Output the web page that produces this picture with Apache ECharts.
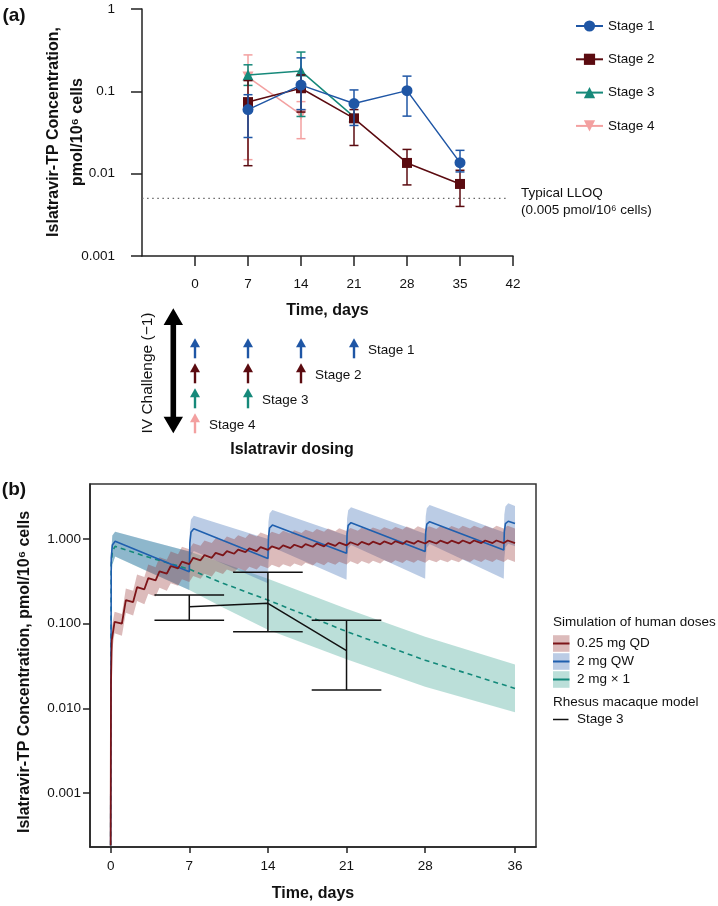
<!DOCTYPE html>
<html>
<head>
<meta charset="utf-8">
<script src="https://cdn.jsdelivr.net/npm/echarts@6/dist/echarts.min.js"></script>
<style>
  html, body { margin: 0; background: #fff; }
  #chart { width: 718px; height: 906px; }
</style>
</head>
<body>
<div id="chart"></div>
<script>
// ---- panel (a): measured islatravir-TP per stage ----
const stageNames = ['Stage 1', 'Stage 2', 'Stage 3', 'Stage 4']
const stageColors = ['#1f56a5', '#5b0b10', '#16897a', '#f3a0a0']
const stageSymbols = ['circle', 'rect', 'triangle', 'triangle']

const stage1Days = [7, 14, 21, 28, 35]
const stage1Mean = [0.06, 0.119, 0.071, 0.102, 0.0136]
const stage1Lo = [0.0275, 0.06, 0.0385, 0.05, 0.0105]
const stage1Hi = [0.091, 0.255, 0.104, 0.153, 0.0192]

const stage2Days = [7, 14, 21, 28, 35]
const stage2Mean = [0.074, 0.109, 0.047, 0.0135, 0.0075]
const stage2Lo = [0.0125, 0.056, 0.022, 0.0073, 0.004]
const stage2Hi = [0.135, 0.158, 0.06, 0.0197, 0.011]

const stage3Days = [7, 14, 21]
const stage3Mean = [0.158, 0.176, 0.049]
const stage3Lo = [0.118, 0.0495, null]
const stage3Hi = [0.21, 0.3, null]

const stage4Days = [7, 14]
const stage4Mean = [0.149, 0.052]
const stage4Lo = [0.0148, 0.0266]
const stage4Hi = [0.277, 0.075]

const lloq = 0.005
const lloqDays = [-7, 41.5]
const aTicks = [0, 7, 14, 21, 28, 35, 42]

// dosing days per stage
const stage1Doses = [0, 7, 14, 21]
const stage2Doses = [0, 7, 14]
const stage3Doses = [0, 7]
const stage4Doses = [0]

// ---- panel (b): simulated human doses ----
const bTicks = [0, 7, 14, 21, 28, 36]
const bYTicks = [0.001, 0.01, 0.1, 1]

// 0.25 mg QD: start of first day, then daily peak (day d + lag) and trough (day d + 1)
const qdStartT = [0, 0.03, 0.1]
const qdMedStart = [0.00024, 0.02, 0.064]
const qdHiStart = [0.00024, 0.03, 0.09]
const qdLoStart = [0.00024, 0.012, 0.045]
const qdPeakLag = 0.35
const qdMedPeak = [0.105, 0.19, 0.27, 0.345, 0.415, 0.48, 0.54, 0.6, 0.645, 0.685, 0.72, 0.75, 0.775, 0.8, 0.82, 0.84, 0.855, 0.87, 0.885, 0.895, 0.905, 0.915, 0.925, 0.93, 0.935, 0.94, 0.945, 0.95, 0.95, 0.955, 0.955, 0.96, 0.96, 0.96, 0.96, 0.96]
const qdMedTrough = [0.1, 0.18, 0.255, 0.325, 0.39, 0.45, 0.505, 0.56, 0.6, 0.64, 0.67, 0.7, 0.72, 0.745, 0.765, 0.78, 0.795, 0.81, 0.82, 0.83, 0.84, 0.85, 0.86, 0.865, 0.87, 0.875, 0.88, 0.885, 0.885, 0.89, 0.89, 0.89, 0.895, 0.895, 0.895, 0.895]
const qdHiPeak = [0.138, 0.26, 0.38, 0.5, 0.61, 0.71, 0.81, 0.89, 0.96, 1.02, 1.07, 1.11, 1.15, 1.19, 1.22, 1.25, 1.27, 1.29, 1.31, 1.33, 1.34, 1.35, 1.36, 1.37, 1.38, 1.39, 1.4, 1.41, 1.41, 1.42, 1.42, 1.43, 1.43, 1.43, 1.43, 1.43]
const qdHiTrough = [0.13, 0.245, 0.355, 0.465, 0.57, 0.66, 0.755, 0.83, 0.895, 0.95, 0.995, 1.03, 1.07, 1.105, 1.135, 1.165, 1.18, 1.2, 1.22, 1.235, 1.245, 1.255, 1.265, 1.275, 1.285, 1.295, 1.3, 1.31, 1.31, 1.32, 1.32, 1.33, 1.33, 1.33, 1.33, 1.33]
const qdLoPeak = [0.077, 0.135, 0.185, 0.225, 0.265, 0.3, 0.335, 0.365, 0.39, 0.415, 0.435, 0.455, 0.47, 0.485, 0.495, 0.505, 0.515, 0.525, 0.53, 0.535, 0.54, 0.545, 0.55, 0.555, 0.56, 0.56, 0.565, 0.565, 0.57, 0.57, 0.57, 0.575, 0.575, 0.575, 0.575, 0.575]
const qdLoTrough = [0.072, 0.125, 0.17, 0.21, 0.245, 0.28, 0.31, 0.34, 0.36, 0.385, 0.405, 0.42, 0.435, 0.45, 0.46, 0.47, 0.48, 0.485, 0.49, 0.495, 0.5, 0.505, 0.51, 0.515, 0.52, 0.52, 0.525, 0.525, 0.53, 0.53, 0.53, 0.535, 0.535, 0.535, 0.535, 0.535]

// 2 mg QW: per weekly cycle, value at dose time, two points on the rise, peak; then value at day 36
const qwDoseDays = [0, 7, 14, 21, 28, 35]
const qwRiseT = [0.05, 0.15, 0.4]
const qwMedTrough = [0.00024, 0.41, 0.59, 0.68, 0.71, 0.74]
const qwMedRiseA = [0.6, 0.9, 1.05, 1.15, 1.2, 1.22]
const qwMedRiseB = [0.85, 1.2, 1.35, 1.45, 1.5, 1.52]
const qwMedPeak = [0.94, 1.32, 1.46, 1.56, 1.6, 1.62]
const qwMedEnd = 1.52
const qwHiTrough = [0.00024, 0.71, 1.0, 1.1, 1.15, 1.2]
const qwHiRiseA = [0.7, 1.3, 1.6, 1.75, 1.85, 1.95]
const qwHiRiseB = [1.1, 1.7, 2.0, 2.18, 2.3, 2.42]
const qwHiPeak = [1.22, 1.88, 2.2, 2.37, 2.52, 2.64]
const qwHiEnd = 2.45
const qwLoTrough = [0.00024, 0.25, 0.3, 0.33, 0.34, 0.34]
const qwLoRiseA = [0.3, 0.45, 0.52, 0.56, 0.58, 0.59]
const qwLoRiseB = [0.5, 0.64, 0.72, 0.77, 0.79, 0.8]
const qwLoPeak = [0.62, 0.72, 0.8, 0.85, 0.87, 0.88]
const qwLoEnd = 0.82

// 2 mg x 1
const onceT = [0, 0.05, 0.15, 0.4, 3, 7, 10, 14, 21, 28, 36]
const onceMed = [0.00024, 0.5, 0.72, 0.82, 0.63, 0.44, 0.3, 0.19, 0.081, 0.037, 0.0172]
const onceHi = [0.00024, 0.7, 1.1, 1.22, 0.98, 0.71, 0.52, 0.34, 0.15, 0.07, 0.033]
const onceLo = [0.00024, 0.3, 0.5, 0.62, 0.43, 0.25, 0.155, 0.085, 0.038, 0.018, 0.009]

// rhesus macaque model, stage 3
const modelDays = [7, 14, 21]
const modelMean = [0.159, 0.174, 0.048]
const modelLo = [0.11, 0.0805, 0.0165]
const modelHi = [0.218, 0.405, 0.11]
const modelCapDays = 3.1

const font = "'Liberation Sans', Arial, Helvetica, sans-serif"
const ink = '#111'
const qdColor = '#7d1519'
const qwColor = '#1f5fae'
const onceColor = '#13897a'

function qdPoints (startVals, peaks, troughs) {
  const pts = qdStartT.map((t, i) => [t, startVals[i]])
  peaks.forEach((p, d) => {
    pts.push([d + qdPeakLag, p])
    pts.push([d + 1, troughs[d]])
  })
  return pts
}

function qwPoints (troughs, riseA, riseB, peaks, endVal) {
  const pts = []
  qwDoseDays.forEach((d, i) => {
    pts.push([d, troughs[i]])
    pts.push([d + qwRiseT[0], riseA[i]])
    pts.push([d + qwRiseT[1], riseB[i]])
    pts.push([d + qwRiseT[2], peaks[i]])
  })
  pts.push([36, endVal])
  return pts
}

const zip = (xs, ys) => xs.map((x, i) => [x, ys[i]])

function bandItem (upper, lower, fill) {
  return function (params, api) {
    const pts = upper.map(p => api.coord(p))
      .concat(lower.slice().reverse().map(p => api.coord(p)))
    return { type: 'polygon', shape: { points: pts }, style: { fill: fill } }
  }
}

function errorBarItem (color, capPx, capDays) {
  return function (params, api) {
    const x = api.value(0)
    const top = api.coord([x, api.value(2)])
    const bot = api.coord([x, api.value(1)])
    let half = capPx
    if (capDays) half = api.coord([x + capDays, api.value(2)])[0] - top[0]
    const style = { stroke: color, lineWidth: 1.5 }
    return {
      type: 'group',
      children: [
        { type: 'line', shape: { x1: top[0], y1: top[1], x2: bot[0], y2: bot[1] }, style: style },
        { type: 'line', shape: { x1: top[0] - half, y1: top[1], x2: top[0] + half, y2: top[1] }, style: style },
        { type: 'line', shape: { x1: bot[0] - half, y1: bot[1], x2: bot[0] + half, y2: bot[1] }, style: style }
      ]
    }
  }
}

function doseArrowItem (row, color, label, count) {
  return function (params, api) {
    const base = api.coord([api.value(0), row])
    const tip = api.coord([api.value(0), row - 0.8])
    const x = base[0]
    const children = [
      { type: 'line', shape: { x1: x, y1: base[1], x2: x, y2: tip[1] + 6 }, style: { stroke: color, lineWidth: 2.4 } },
      { type: 'polygon', shape: { points: [[x, tip[1]], [x + 5, tip[1] + 9], [x - 5, tip[1] + 9]] }, style: { fill: color } }
    ]
    if (params.dataIndex === count - 1) {
      children.push({
        type: 'text',
        style: { text: label, x: x + 14, y: base[1] - 8, verticalAlign: 'middle', textVerticalAlign: 'middle', font: '13.5px ' + font, fill: ink }
      })
    }
    return { type: 'group', children: children }
  }
}

const stageDays = [stage1Days, stage2Days, stage3Days, stage4Days]
const stageMean = [stage1Mean, stage2Mean, stage3Mean, stage4Mean]
const stageLo = [stage1Lo, stage2Lo, stage3Lo, stage4Lo]
const stageHi = [stage1Hi, stage2Hi, stage3Hi, stage4Hi]
const stageDoses = [stage1Doses, stage2Doses, stage3Doses, stage4Doses]

const series = []

// typical LLOQ, dotted
series.push({
  name: 'LLOQ',
  type: 'line',
  xAxisIndex: 0, yAxisIndex: 0,
  z: 1,
  showSymbol: false, symbol: 'none', silent: true,
  lineStyle: { type: [1.5, 3.6], color: '#666', width: 1.3 },
  data: zip(lloqDays, [lloq, lloq])
})

for (let s = 3; s >= 0; s--) {
  const errData = stageDays[s].map((d, i) => [d, stageLo[s][i], stageHi[s][i]])
    .filter(r => r[1] != null)
  series.push({
    name: stageNames[s] + ' range',
    type: 'custom',
    xAxisIndex: 0, yAxisIndex: 0,
    z: 2 + (3 - s) * 2,
    renderItem: errorBarItem(stageColors[s], 4.5),
    encode: { x: 0, y: [1, 2] },
    itemStyle: { opacity: 0.85 },
    data: errData
  })
  series.push({
    name: stageNames[s],
    type: 'line',
    xAxisIndex: 0, yAxisIndex: 0,
    z: 3 + (3 - s) * 2,
    symbol: stageSymbols[s],
    symbolRotate: s === 3 ? 180 : 0,
    symbolSize: s === 1 ? 10 : 11,
    color: stageColors[s],
    lineStyle: { width: 1.5, color: stageColors[s] },
    itemStyle: { color: stageColors[s] },
    data: zip(stageDays[s], stageMean[s])
  })
}

// dosing arrows
stageDoses.forEach((doses, s) => {
  series.push({
    name: stageNames[s] + ' dosing',
    type: 'custom',
    xAxisIndex: 2, yAxisIndex: 2,
    renderItem: doseArrowItem(s + 1, stageColors[s], stageNames[s], doses.length),
    encode: { x: 0, y: 1 },
    data: doses.map(d => [d, s + 1])
  })
})

// panel (b)
const qdMed = qdPoints(qdMedStart, qdMedPeak, qdMedTrough)
const qdHi = qdPoints(qdHiStart, qdHiPeak, qdHiTrough)
const qdLo = qdPoints(qdLoStart, qdLoPeak, qdLoTrough)
const qwMed = qwPoints(qwMedTrough, qwMedRiseA, qwMedRiseB, qwMedPeak, qwMedEnd)
const qwHi = qwPoints(qwHiTrough, qwHiRiseA, qwHiRiseB, qwHiPeak, qwHiEnd)
const qwLo = qwPoints(qwLoTrough, qwLoRiseA, qwLoRiseB, qwLoPeak, qwLoEnd)

const bandFill = {
  qd: 'rgba(150,50,50,0.33)',
  qw: 'rgba(60,110,180,0.35)',
  once: 'rgba(30,150,130,0.3)'
}

series.push(
  { name: '2 mg × 1 band', type: 'custom', xAxisIndex: 1, yAxisIndex: 1, z: 1, clip: true,
    renderItem: bandItem(zip(onceT, onceHi), zip(onceT, onceLo), bandFill.once), encode: { x: 0, y: 1 }, data: [[0, 1]] },
  { name: '2 mg QW band', type: 'custom', xAxisIndex: 1, yAxisIndex: 1, z: 2, clip: true,
    renderItem: bandItem(qwHi, qwLo, bandFill.qw), encode: { x: 0, y: 1 }, data: [[0, 1]] },
  { name: '0.25 mg QD band', type: 'custom', xAxisIndex: 1, yAxisIndex: 1, z: 3, clip: true,
    renderItem: bandItem(qdHi, qdLo, bandFill.qd), encode: { x: 0, y: 1 }, data: [[0, 1]] },
  { name: '2 mg × 1', type: 'line', xAxisIndex: 1, yAxisIndex: 1, z: 5, showSymbol: false, symbol: 'none',
    lineStyle: { color: onceColor, width: 1.6, type: [5, 4] }, data: zip(onceT, onceMed) },
  { name: '2 mg QW', type: 'line', xAxisIndex: 1, yAxisIndex: 1, z: 6, showSymbol: false, symbol: 'none',
    lineStyle: { color: qwColor, width: 1.6 }, data: qwMed },
  { name: '0.25 mg QD', type: 'line', xAxisIndex: 1, yAxisIndex: 1, z: 7, showSymbol: false, symbol: 'none',
    lineStyle: { color: qdColor, width: 1.8 }, data: qdMed },
  { name: 'Model range', type: 'custom', xAxisIndex: 1, yAxisIndex: 1, z: 8,
    renderItem: errorBarItem('#111', 0, modelCapDays), encode: { x: 0, y: [1, 2] },
    data: modelDays.map((d, i) => [d, modelLo[i], modelHi[i]]) },
  { name: 'Stage 3 model', type: 'line', xAxisIndex: 1, yAxisIndex: 1, z: 9, showSymbol: false, symbol: 'none',
    lineStyle: { color: '#111', width: 1.5 }, data: zip(modelDays, modelMean) }
)

const axisLine = { show: true, onZero: false, lineStyle: { color: '#222', width: 1.5 } }
const tickStyle = { color: '#222', width: 1.5 }
const labelStyle = { fontSize: 13.5, color: ink, fontFamily: font }

const txt = (text, x, y, size, bold, extra) => Object.assign({
  type: 'text', x: x, y: y,
  style: {
    text: text, fill: ink, font: (bold ? 'bold ' : '') + size + 'px ' + font,
    align: 'center', verticalAlign: 'middle', textAlign: 'center', textVerticalAlign: 'middle'
  }
}, extra || {})

const leftTxt = (text, x, y) => ({
  type: 'text', x: x, y: y,
  style: { text: text, fill: ink, font: '13.5px ' + font, verticalAlign: 'middle', textVerticalAlign: 'middle' }
})

const legendB = []
const bItems = [
  ['0.25 mg QD', bandFill.qd, qdColor, 643.5],
  ['2 mg QW', bandFill.qw, qwColor, 661.5],
  ['2 mg × 1', bandFill.once, onceColor, 679.5]
]
bItems.forEach(([name, fill, color, y]) => {
  legendB.push({ type: 'rect', shape: { x: 553, y: y - 8.3, width: 16.5, height: 16.6 }, style: { fill: fill } })
  legendB.push({ type: 'line', shape: { x1: 553, y1: y, x2: 569.5, y2: y }, style: { stroke: color, lineWidth: 2 } })
  legendB.push(leftTxt(name, 577, y))
})
legendB.push(leftTxt('Simulation of human doses', 553, 622))
legendB.push(leftTxt('Rhesus macaque model', 553, 702))
legendB.push({ type: 'line', shape: { x1: 553, y1: 719.5, x2: 568.5, y2: 719.5 }, style: { stroke: '#111', lineWidth: 1.5 } })
legendB.push(leftTxt('Stage 3', 577, 719.5))

const ax = 173.3
const bigArrow = {
  type: 'polygon',
  shape: {
    points: [[ax, 308.3], [ax + 9.7, 325], [ax + 2.8, 325], [ax + 2.8, 416.7], [ax + 9.7, 416.7],
      [ax, 433.3], [ax - 9.7, 416.7], [ax - 2.8, 416.7], [ax - 2.8, 325], [ax - 9.7, 325]]
  },
  style: { fill: '#000' }
}

const yTitleA = txt('Islatravir-TP Concentration,\npmol/10⁶ cells', 66, 132, 16, true, { rotation: Math.PI / 2 })
yTitleA.style.lineHeight = 24

const option = {
  animation: false,
  backgroundColor: '#fff',
  textStyle: { fontFamily: font },
  grid: [
    { left: 142, top: 9, width: 371, height: 247 },
    { left: 90, top: 484, width: 446, height: 363, show: true, borderColor: '#333', borderWidth: 1.5, backgroundColor: 'transparent' },
    { left: 142, top: 333.3, width: 371, height: 100 }
  ],
  xAxis: [
    { gridIndex: 0, type: 'value', min: -7, max: 42, interval: 7, axisLine: axisLine,
      axisTick: { show: true, length: 10, lineStyle: tickStyle, customValues: aTicks },
      axisLabel: Object.assign({ margin: 21, customValues: aTicks }, labelStyle),
      splitLine: { show: false } },
    { gridIndex: 1, type: 'value', min: -1.84, max: 37.87, axisLine: axisLine,
      axisTick: { show: true, length: 6, lineStyle: tickStyle, customValues: bTicks },
      axisLabel: Object.assign({ margin: 12, customValues: bTicks }, labelStyle),
      splitLine: { show: false } },
    { gridIndex: 2, type: 'value', min: -7, max: 42, show: false }
  ],
  yAxis: [
    { gridIndex: 0, type: 'log', logBase: 10, min: 0.001, max: 1, axisLine: axisLine,
      axisTick: { show: true, length: 11, lineStyle: tickStyle },
      axisLabel: Object.assign({ margin: 27 }, labelStyle),
      splitLine: { show: false } },
    { gridIndex: 1, type: 'log', logBase: 10, min: 0.000231, max: 4.46, axisLine: axisLine,
      axisTick: { show: true, length: 7, lineStyle: tickStyle, customValues: bYTicks },
      axisLabel: Object.assign({ margin: 9, customValues: bYTicks, formatter: v => Number(v).toFixed(3) }, labelStyle),
      splitLine: { show: false } },
    { gridIndex: 2, type: 'value', min: 0, max: 4, inverse: true, show: false }
  ],
  legend: {
    data: stageNames,
    orient: 'vertical', left: 570, top: 14,
    itemWidth: 27, itemHeight: 14, itemGap: 19.3,
    selectedMode: false,
    textStyle: Object.assign({ lineHeight: 14 }, labelStyle)
  },
  graphic: [
    txt('(a)', 14, 16, 19, true),
    txt('(b)', 14, 490, 19, true),
    yTitleA,
    txt('Time, days', 327.5, 311, 16, true),
    txt('IV Challenge (−1)', 148, 373, 15.5, false, { rotation: Math.PI / 2 }),
    bigArrow,
    txt('Islatravir dosing', 292, 450, 16, true),
    txt('Islatravir-TP Concentration, pmol/10⁶ cells', 25, 672, 16, true, { rotation: Math.PI / 2 }),
    txt('Time, days', 313, 894, 16, true),
    leftTxt('Typical LLOQ', 521, 193),
    leftTxt('(0.005 pmol/10⁶ cells)', 521, 210)
  ].concat(legendB),
  series: series
}

const chart = echarts.init(document.getElementById('chart'), null, { renderer: 'canvas' })
chart.setOption(option)
</script>
</body>
</html>
